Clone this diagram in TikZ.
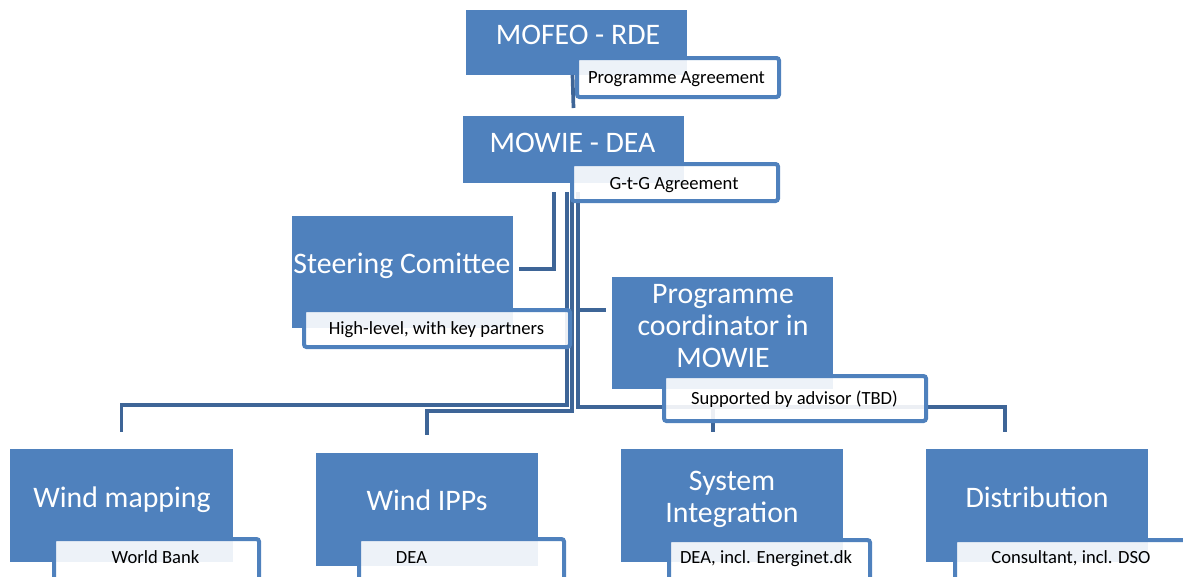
\documentclass[tikz,border=0pt]{standalone}
\usepackage{fontspec}
\setmainfont{Carlito}
\definecolor{boxblue}{RGB}{79,129,189}
\definecolor{connblue}{RGB}{62,101,151}
\begin{document}
\begin{tikzpicture}[x=1pt,y=-1pt,
  box/.style={fill=boxblue, draw=none, inner sep=0pt, outer sep=0pt},
  lab/.style={draw=boxblue, line width=4pt, fill=white, fill opacity=0.9, rounded corners=2.5pt, inner sep=0pt, outer sep=0pt},
  btxt/.style={text=white, font=\fontsize{29.8}{32}\selectfont, inner sep=0pt, anchor=base},
  ltxt/.style={text=black, font=\fontsize{18.6}{20}\selectfont, inner sep=0pt, anchor=base},
  conn/.style={draw=connblue, line width=3.7pt}]
\useasboundingbox (0,0) rectangle (1183,576);

% boxes
\node[box, minimum width=221pt, minimum height=65pt] (mofeo) at (576.5,42.5) {};
\node[box, minimum width=221pt, minimum height=67pt] (mowie) at (573.5,149.5) {};
\node[box, minimum width=221pt, minimum height=112pt] (steer) at (402.5,272) {};
\node[box, minimum width=221pt, minimum height=112pt] (coord) at (722.5,333) {};
\node[box, minimum width=223pt, minimum height=113pt] (windmap) at (121.5,505.5) {};
\node[box, minimum width=222pt, minimum height=113pt] (windipp) at (427,509.5) {};
\node[box, minimum width=222pt, minimum height=113pt] (sys) at (732,505.5) {};
\node[box, minimum width=222pt, minimum height=113pt] (dist) at (1037,505.5) {};

% connectors
\draw[conn] ([xshift=-4pt]mofeo.south) -- ([yshift=8pt]mowie.north);
\draw[conn] ([xshift=-19.5pt,yshift=-9pt]mowie.south) |- ([xshift=6pt,yshift=3pt]steer.east);
\draw[conn] ([xshift=4.5pt,yshift=-9pt]mowie.south) |- ([xshift=-6pt,yshift=23pt]coord.west);
\draw[conn] ([xshift=-6.5pt,yshift=-9pt]mowie.south) |- ([yshift=44pt]windmap.north) -- ([yshift=17pt]windmap.north);
\draw[conn] ([xshift=-1.5pt,yshift=-9pt]mowie.south) |- ([yshift=42pt]windipp.north) -- ([yshift=18pt]windipp.north);
\draw[conn] ([xshift=4.5pt,yshift=-9pt]mowie.south) |- ([xshift=-19pt,yshift=42pt]sys.north) -- ([xshift=-19pt,yshift=17pt]sys.north);
\draw[conn] ([xshift=4.5pt,yshift=-9pt]mowie.south) |- ([xshift=-32pt,yshift=42pt]dist.north) -- ([xshift=-32pt,yshift=17pt]dist.north);

% labels
\node[lab, minimum width=202pt, minimum height=39pt] (pa) at (678,77.5) {};
\node[lab, minimum width=206pt, minimum height=37pt] (gtg) at (675,182.5) {};
\node[lab, minimum width=266pt, minimum height=37pt] (hl) at (437,328.5) {};
\node[lab, minimum width=262pt, minimum height=45pt] (sup) at (795,398.5) {};
\node[lab, minimum width=205pt, minimum height=44pt] (wb) at (156.5,561) {};
\node[lab, minimum width=205pt, minimum height=44pt] (dea) at (461.5,561) {};
\node[lab, minimum width=201pt, minimum height=43pt] (deae) at (769.5,561.5) {};
\node[lab, minimum width=238pt, minimum height=43pt] (cons) at (1074,561.5) {};

% box texts
\node[btxt] (t1) at (578,44) {MOFEO - RDE};
\node[btxt] (t2) at (572.5,152) {MOWIE - DEA};
\node[btxt] (t3) at (402,273) {Steering Comittee};
\node[btxt] (t4a) at (723,303) {Programme};
\node[btxt] (t4b) at (723,335) {coordinator in};
\node[btxt] (t4c) at (723,367) {MOWIE};
\node[btxt] (t5) at (122,507) {Wind mapping};
\node[btxt] (t6) at (427,510) {Wind IPPs};
\node[btxt] (t7a) at (732,490) {System};
\node[btxt] (t7b) at (732,522) {Integration};
\node[btxt] (t8) at (1037,507) {Distribution};

% label texts
\node[ltxt] (l1) at (676.5,83) {Programme Agreement};
\node[ltxt] (l2) at (674,189) {G-t-G Agreement};
\node[ltxt] (l3) at (436.5,334) {High-level, with key partners};
\node[ltxt] (l4) at (794.5,404) {Supported by advisor (TBD)};
\node[ltxt] (l5) at (155.5,563) {World Bank};
\node[ltxt] (l6) at (411.5,563) {DEA};
\node[ltxt] (l7) at (766,563) {DEA, incl. Energinet.dk};
\node[ltxt] (l8) at (1071,563) {Consultant, incl. DSO};
\end{tikzpicture}
\end{document}
